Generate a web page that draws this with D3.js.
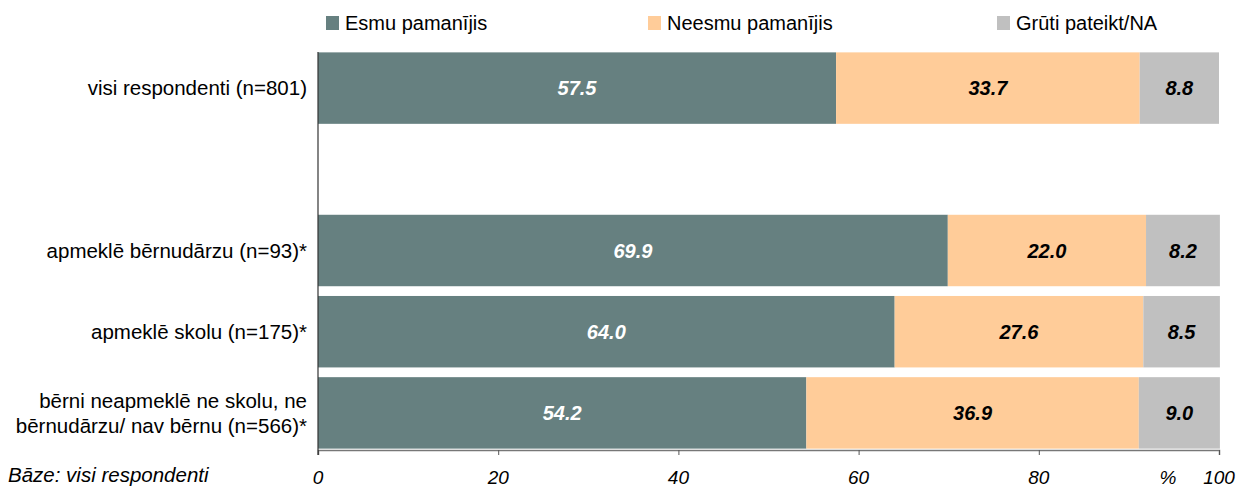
<!DOCTYPE html>
<html>
<head>
<meta charset="utf-8">
<script src="https://cdn.jsdelivr.net/npm/d3@7"></script>
<style>
  body { margin: 0; background: #fff; }
  text { font-family: "Liberation Sans", Arial, sans-serif; }
</style>
</head>
<body>
<svg id="chart"></svg>
<script>
// categories (empty string = the blank gap row under the total)
var categories = ["visi respondenti (n=801)", "", "apmeklē bērnudārzu (n=93)*", "apmeklē skolu (n=175)*", "bērni neapmeklē ne skolu, ne\nbērnudārzu/ nav bērnu (n=566)*"]
var esmu   = [57.5, null, 69.9, 64.0, 54.2]
var neesmu = [33.7, null, 22.0, 27.6, 36.9]
var gruti  = [8.8, null, 8.2, 8.5, 9.0]
var seriesNames = ["Esmu pamanījis", "Neesmu pamanījis", "Grūti pateikt/NA"]
var seriesColors = ["#668080", "#ffcc99", "#c0c0c0"]
var labelColors = ["#ffffff", "#000000", "#000000"]
var xTicks = [0, 20, 40, 60, 80, 100]

var width = 1237, height = 488

var svg = d3.select("#chart").attr("width", width).attr("height", height)

var x = d3.scaleLinear().domain([0, 100]).range([318, 1219])
var y = d3.scaleBand()
  .domain(d3.range(categories.length))
  .range([47.5, 453.5])
  .paddingInner(0.12)
  .paddingOuter(0.06)

// build stacked rows
var rows = categories.map(function(c, i) {
  return { cat: c, vals: [esmu[i], neesmu[i], gruti[i]], i: i }
})

var stackData = []
rows.forEach(function(r) {
  if (r.vals[0] == null) return
  var acc = 0
  r.vals.forEach(function(v, k) {
    stackData.push({ i: r.i, k: k, x0: acc, x1: acc + v, v: v })
    acc += v
  })
})

svg.append("g").selectAll("rect")
  .data(stackData)
  .enter().append("rect")
  .attr("x", function(d) { return x(d.x0) })
  .attr("y", function(d) { return y(d.i) })
  .attr("width", function(d) { return x(d.x1) - x(d.x0) })
  .attr("height", y.bandwidth())
  .attr("fill", function(d) { return seriesColors[d.k] })

svg.append("g").selectAll("text")
  .data(stackData)
  .enter().append("text")
  .attr("x", function(d) { return (x(d.x0) + x(d.x1)) / 2 })
  .attr("y", function(d) { return y(d.i) + y.bandwidth() / 2 })
  .attr("dy", "0.36em")
  .attr("text-anchor", "middle")
  .attr("font-size", 20)
  .attr("font-weight", "bold")
  .attr("font-style", "italic")
  .attr("fill", function(d) { return labelColors[d.k] })
  .text(function(d) { return d.v.toFixed(1) })

// category labels
var catLabels = svg.append("g").selectAll("text")
  .data(rows.filter(function(r) { return r.cat !== "" }))
  .enter().append("text")
  .attr("text-anchor", "end")
  .attr("font-size", 20.5)
  .attr("fill", "#000")
  .attr("transform", function(d) {
    var lines = d.cat.split("\n").length
    var cy = y(d.i) + y.bandwidth() / 2 - (lines - 1) * 12.5
    return "translate(307," + cy + ")"
  })

catLabels.selectAll("tspan")
  .data(function(d) { return d.cat.split("\n") })
  .enter().append("tspan")
  .attr("x", 0)
  .attr("dy", function(d, j) { return j == 0 ? "0.36em" : 25 })
  .text(function(d) { return d })

// x axis
var xAxis = svg.append("g")
  .attr("transform", "translate(0,450)")
  .call(d3.axisBottom(x).tickValues(xTicks).tickSize(5).tickFormat(""))
xAxis.select(".domain").attr("stroke", "#777").attr("stroke-width", 1.5)
xAxis.selectAll(".tick line").attr("stroke", "#555")

svg.append("g").selectAll("text")
  .data(xTicks)
  .enter().append("text")
  .attr("x", function(d) { return x(d) })
  .attr("y", 484)
  .attr("text-anchor", "middle")
  .attr("font-size", 19)
  .attr("font-style", "italic")
  .text(function(d) { return d })

svg.append("text")
  .attr("x", 1168).attr("y", 484)
  .attr("text-anchor", "middle")
  .attr("font-size", 19)
  .attr("font-style", "italic")
  .text("%")

svg.append("text")
  .attr("x", 8).attr("y", 482)
  .attr("font-size", 20.5)
  .attr("font-style", "italic")
  .text("Bāze: visi respondenti")

// vertical axis line
svg.append("line")
  .attr("x1", x(0)).attr("x2", x(0))
  .attr("y1", 52).attr("y2", 455)
  .attr("stroke", "#333").attr("stroke-width", 1.2)

// legend
var legendX = [326, 648, 997]
var legend = svg.append("g").selectAll("g")
  .data(seriesNames)
  .enter().append("g")
  .attr("transform", function(d, i) { return "translate(" + legendX[i] + ",16)" })
legend.append("rect")
  .attr("width", 13).attr("height", 14)
  .attr("fill", function(d, i) { return seriesColors[i] })
legend.append("text")
  .attr("x", 19).attr("y", 7)
  .attr("dy", "0.36em")
  .attr("font-size", 20)
  .text(function(d) { return d })
</script>
</body>
</html>
